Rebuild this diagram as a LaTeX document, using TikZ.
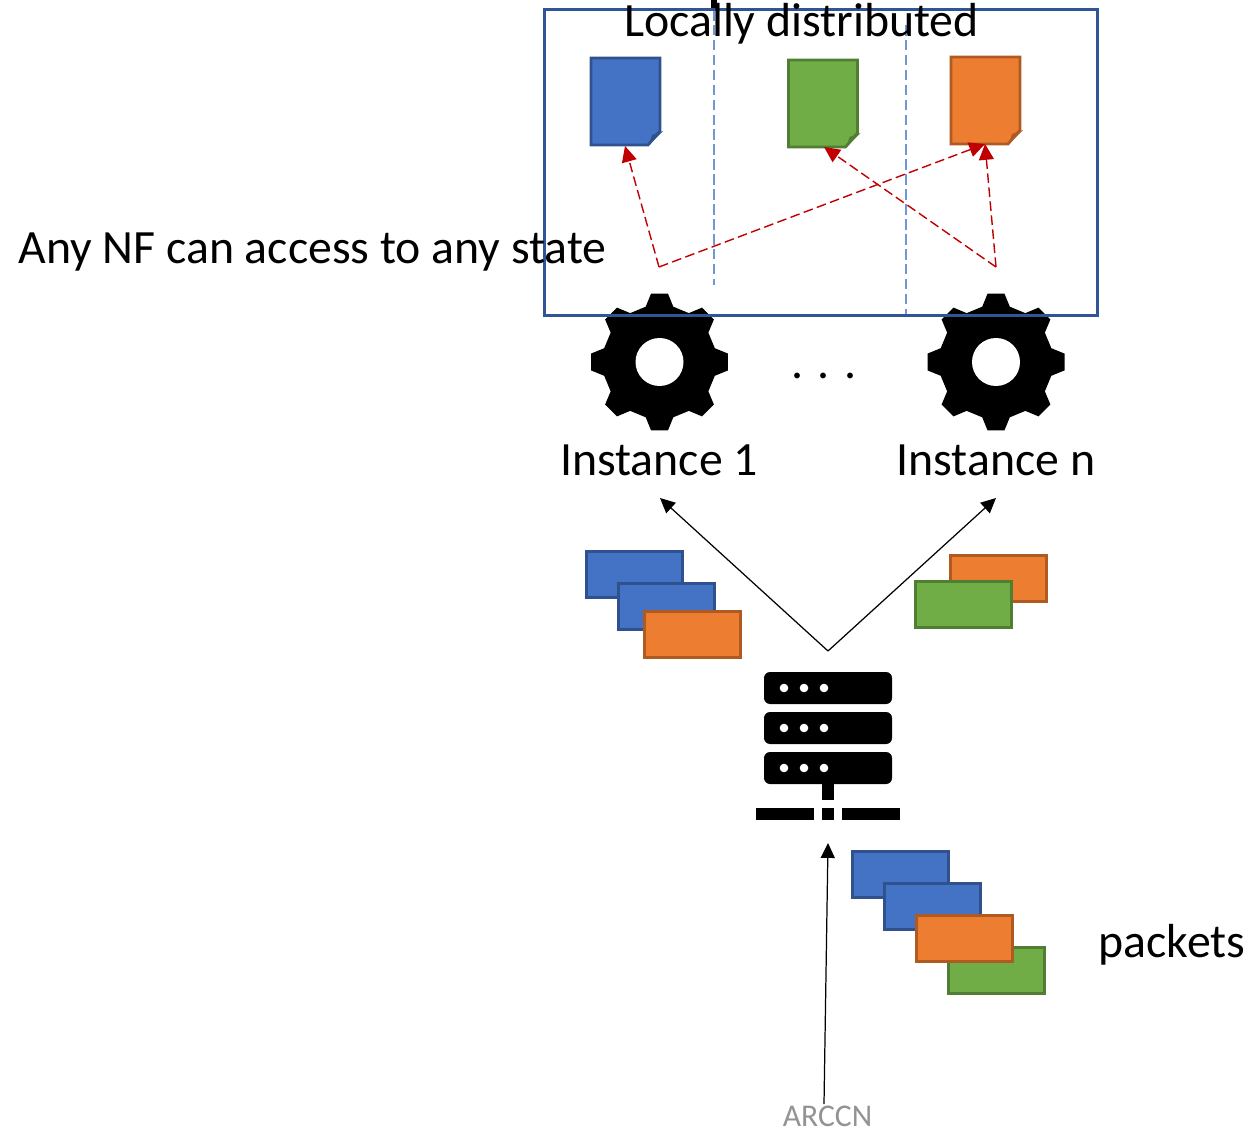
\documentclass[tikz,border=0pt]{standalone}
\usepackage{fontspec}
\setmainfont{Carlito}
\usetikzlibrary{arrows.meta}
\definecolor{boxblue}{HTML}{2F5597}
\definecolor{splitblue}{HTML}{6F96D8}
\definecolor{myblue}{HTML}{4472C4}
\definecolor{myblueD}{HTML}{2F528F}
\definecolor{mygreen}{HTML}{70AD47}
\definecolor{mygreenD}{HTML}{507E32}
\definecolor{myorange}{HTML}{ED7D31}
\definecolor{myorangeD}{HTML}{AE5A21}
\definecolor{arrowred}{HTML}{C00000}
\tikzset{
  packet/.style={draw=#1D, fill=#1, line width=1.6pt, minimum width=1.92cm, minimum height=0.92cm, inner sep=0pt},
  label/.style={inner sep=0pt, anchor=base, font=\fontsize{27.2}{27.2}\selectfont},
  access/.style={arrowred, dash pattern=on 5.5pt off 2.5pt, line width=0.8pt, -{Triangle[length=9pt,width=8.5pt]}},
  flow/.style={black, line width=0.7pt, -{Triangle[length=8.5pt,width=8pt]}},
  split/.style={splitblue, dash pattern=on 6pt off 2.5pt, line width=0.8pt},
}
\newcommand{\statedoc}[3]{%
\fill[#3, draw=#3D, line width=1.6pt] (#1,#2) -- ++(69,0) -- ++(0,73) -- ++(-12,14) -- ++(-57,0) -- cycle;
\fill[#3D] (#1+58,#2+87) -- (#1+61,#2+77) -- (#1+72,#2+73) -- cycle;
}
\newcommand{\gearicon}[2]{%
\begin{scope}[shift={(#1,#2)}]
\fill (-14:57) \foreach \a in {0,45,...,315} { -- (\a-14:57) -- (\a-7:69) -- (\a+7:69) -- (\a+14:57) } -- cycle;
\fill[white] (0,0) circle (24);
\end{scope}
}
\begin{document}
\begin{tikzpicture}[x=0.02cm,y=-0.02cm]
\useasboundingbox (0,0) rectangle (1250,1131);
% gears sit under the box
\gearicon{659.5}{362}
\gearicon{996}{362}
%
\draw[black, line width=3pt] (714,0)--(714,11);
\draw[split] (714,10)--(714,285);
\draw[split] (906,25)--(906,315);
\node[draw=boxblue, line width=1.7pt, minimum width=11.06cm, minimum height=6.14cm, inner sep=0pt] (statebox) at (821,162.5) {};
%
\statedoc{591}{58}{myblue}
\statedoc{788.5}{60}{mygreen}
\statedoc{951}{57}{myorange}
%
\node[label] (title) at (801.5,37) {Locally distributed};
\node[label] (anynf) at (312.5,263.5) {Any NF can access to any state};
\node[label] (inst1) at (659,475) {Instance 1};
\node[label] (instn) at (996,475) {Instance n};
\node[label] (dots) at (824,379) {. . .};
\node[label] (packets) at (1172,957) {packets};
\node[inner sep=0pt, anchor=base, font=\fontsize{18}{18}\selectfont, text=gray!85] (arccn) at (827.5,1126.5) {ARCCN};
%
\coordinate (from1) at (659,267);
\coordinate (fromn) at (996,267);
\coordinate (docblue) at (625,146);
\coordinate (docgreen) at (824,147);
\coordinate (docorange) at (985,144);
\draw[access] (from1)--(docblue);
\draw[access] (from1)--(docorange);
\draw[access] (fromn)--(docgreen);
\draw[access] (fromn)--(docorange);
% packets left
\node[packet=myblue] (pa) at (634.5,574.5) {};
\node[packet=myblue] (pb) at (666.5,606.5) {};
\node[packet=myorange] (pc) at (692.5,634.5) {};
% packets right
\node[packet=myorange] (pd) at (998.5,578.5) {};
\node[packet=mygreen] (pe) at (963.5,604.5) {};
% packets below
\node[packet=mygreen] (pi) at (996.5,970.5) {};
\node[packet=myblue] (pf) at (900.5,874.5) {};
\node[packet=myblue] (pg) at (932.5,906.5) {};
\node[packet=myorange] (ph) at (964.5,938.5) {};
% server
\foreach \y in {672,712,752}{
\fill[rounded corners=6*0.02cm] (764,\y) rectangle (892,\y+32);
\foreach \x in {784,804,824}{
\fill[white] (\x,\y+16) circle (4.3);
}
}
\fill (822,784) rectangle (834,800);
\fill (756,808) rectangle (814,820);
\fill (822,808) rectangle (834,820);
\fill (842,808) rectangle (900,820);
%
\coordinate (fork) at (828,651);
\coordinate (to1) at (660,498);
\coordinate (ton) at (996,498);
\coordinate (serverin) at (828,843);
\coordinate (arccntop) at (824,1104);
\draw[flow] (fork)--(to1);
\draw[flow] (fork)--(ton);
\draw[flow] (arccntop)--(serverin);
\end{tikzpicture}
\end{document}
